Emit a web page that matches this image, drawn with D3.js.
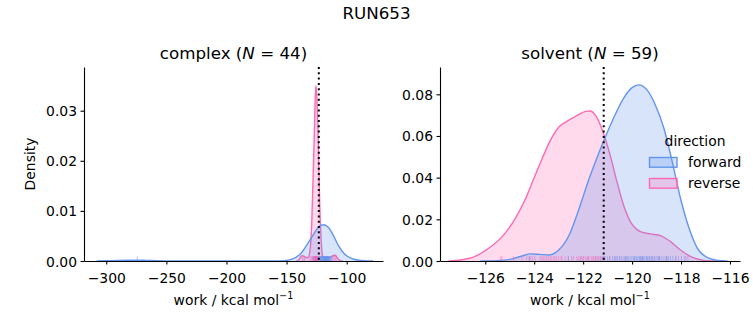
<!DOCTYPE html>
<html>
<head>
<meta charset="utf-8">
<script src="https://cdn.jsdelivr.net/npm/d3@7"></script>
<style>
  html, body { margin: 0; padding: 0; background: #fff; }
  svg { display: block; font-family: "DejaVu Sans", sans-serif; }
</style>
</head>
<body>
<svg id="chart" width="753" height="325"></svg>
<script>
// ---------------- data ----------------
const suptitle = "RUN653";
const panels = ["complex", "solvent"];
const panelN = [44, 59];
const directions = ["forward", "reverse"];
const colors = ["#6495ED", "#FF69B4"];

// KDE curves: [work, density]
const complexForwardCurve = [
  [-308, 0], [-300, 0.00004], [-290, 0.00011], [-282, 0.00015], [-275, 0.00016], [-267, 0.00013],
  [-258, 0.00007], [-248, 0.00002], [-238, 0], [-170, 0], [-160, 0.00001], [-152, 0.00007],
  [-146, 0.00032], [-139, 0.00128], [-133.4, 0.0031], [-127.9, 0.0052], [-123.8, 0.0067],
  [-119.6, 0.00725], [-115.5, 0.0068], [-111.3, 0.0052], [-107.2, 0.0032], [-101.6, 0.00133],
  [-94.7, 0.0004], [-88, 0.00009], [-82, 0.00001], [-78, 0]
];
const complexReverseCurve = [
  [-142, 0], [-140, 0.0002], [-138.5, 0.0007], [-137, 0.00105], [-135.5, 0.00095], [-134, 0.0007],
  [-132.5, 0.0007], [-131.5, 0.0009], [-130.7, 0.0018], [-129.8, 0.004], [-129.0, 0.008],
  [-128.2, 0.0145], [-127.3, 0.022], [-126.5, 0.0295], [-125.7, 0.035], [-124.9, 0.033],
  [-124.0, 0.027], [-123.2, 0.019], [-122.4, 0.011], [-121.5, 0.0055], [-120.7, 0.0022],
  [-119.9, 0.0009], [-118.5, 0.0006], [-116, 0.0006], [-113.5, 0.0008], [-111, 0.0011],
  [-109.5, 0.00115], [-108, 0.0007], [-106.5, 0.00025], [-105, 0.00005], [-103.5, 0]
];
const solventForwardCurve = [
  [-126.2, 0], [-125.5, 0.0002], [-124.9, 0.001], [-124.5, 0.0024], [-124.15, 0.0034],
  [-123.8, 0.0032], [-123.4, 0.0029], [-123.0, 0.0053], [-122.57, 0.0125], [-122.16, 0.0253],
  [-121.75, 0.0397], [-121.47, 0.0485], [-121.17, 0.0573], [-120.76, 0.0685], [-120.35, 0.0781],
  [-120.0, 0.0832], [-119.73, 0.0845], [-119.39, 0.0821], [-119.05, 0.0749], [-118.70, 0.0637],
  [-118.36, 0.0477], [-118.02, 0.030], [-117.67, 0.0157], [-117.33, 0.0061], [-116.92, 0.0016],
  [-116.5, 0.0003], [-116.1, 0]
];
const solventReverseCurve = [
  [-127.5, 0], [-127.0, 0.0005], [-126.55, 0.0016], [-125.86, 0.0061], [-125.31, 0.0117],
  [-124.77, 0.0205], [-124.35, 0.030], [-124.01, 0.0397], [-123.67, 0.0493], [-123.33, 0.0581],
  [-122.98, 0.0644], [-122.57, 0.0677], [-122.16, 0.0704], [-121.9, 0.0718], [-121.72, 0.072],
  [-121.5, 0.070], [-121.17, 0.0613], [-120.90, 0.0509], [-120.62, 0.0381], [-120.35, 0.0269],
  [-120.07, 0.0189], [-119.66, 0.0141], [-119.25, 0.013], [-118.84, 0.0122], [-118.43, 0.0093],
  [-118.02, 0.0053], [-117.60, 0.0021], [-117.06, 0.0003], [-116.6, 0]
];

// individual work values (rug)
const complexForwardWork = [-274.2, -127.9, -125.3, -123.6, -122.8, -122.1, -121.5, -121.0, -120.6,
  -120.2, -119.8, -119.5, -119.1, -118.8, -118.5, -118.2, -117.9, -117.6, -117.3, -117.0, -116.7,
  -116.4, -116.1, -115.8, -115.5, -115.2, -114.9, -114.5, -114.1, -113.6, -113.0, -112.4, -119.3,
  -118.0, -117.4, -116.9, -116.2, -115.6, -114.7, -120.9, -121.8, -118.6, -117.7, -116.6];
const complexReverseWork = [-136.8, -135.6, -134.9, -130.6, -129.4, -128.7, -128.1, -127.6, -127.2,
  -126.9, -126.6, -126.4, -126.2, -126.0, -125.9, -125.7, -125.6, -125.4, -125.3, -125.1, -124.9,
  -124.8, -124.6, -124.4, -124.2, -124.0, -123.8, -125.8, -126.3, -125.5, -125.2, -124.7, -127.0,
  -126.7, -125.0, -124.5, -123.5, -122.6, -121.4, -111.5, -110.4, -109.6, -108.8, -126.1];
const solventForwardWork = [-124.2, -122.6, -122.1, -121.8, -121.5, -121.3, -121.12, -121.0, -120.92,
  -120.8, -120.71, -120.6, -120.52, -120.44, -120.37, -120.3, -120.22, -120.15, -120.08, -120.01,
  -119.95, -119.88, -119.82, -119.77, -119.71, -119.66, -119.6, -119.54, -119.48, -119.42, -119.36,
  -119.3, -119.23, -119.16, -119.09, -119.02, -118.95, -118.87, -118.79, -118.7, -118.61, -118.52,
  -118.43, -118.33, -118.22, -118.1, -117.98, -117.85, -117.72, -120.65, -119.9, -119.57, -119.2,
  -118.9, -120.27, -119.68, -119.4, -118.57, -121.2];
const solventReverseWork = [-125.37, -125.32, -124.85, -124.5, -124.31, -124.2, -124.14, -124.06,
  -123.97, -123.76, -123.69, -123.63, -123.56, -123.49, -123.42, -123.35, -123.28, -123.15, -123.08,
  -123.0, -122.88, -122.74, -122.61, -122.47, -122.4, -122.26, -122.2, -122.13, -122.06, -121.99,
  -121.92, -121.85, -121.79, -121.72, -121.65, -121.58, -121.51, -121.44, -121.38, -121.31, -121.24,
  -121.17, -121.1, -120.9, -120.7, -120.5, -120.2, -119.6, -119.3, -119.1, -118.9, -118.6, -118.2,
  -117.8, -122.9, -121.6, -122.0, -121.4, -123.2];

// free energy estimates (dotted lines)
const freeEnergy = [-123.2, -121.16];

// ticks
const complexXTicks = [-300, -250, -200, -150, -100];
const complexYTicks = [0.00, 0.01, 0.02, 0.03];
const solventXTicks = [-126, -124, -122, -120, -118, -116];
const solventYTicks = [0.00, 0.02, 0.04, 0.06, 0.08];
const complexXDomain = [-318.5, -69.8];
const complexYDomain = [0, 0.03872];
const solventXDomain = [-127.85, -115.59];
const solventYDomain = [0, 0.0931];

// ---------------- drawing ----------------
(function () {
const svg = d3.select("#chart");
svg.append("rect").attr("width", 753).attr("height", 325).attr("fill", "#fff");

const minus = s => s.replace(/-/g, "\u2212");

svg.append("text").attr("x", 376.5).attr("y", 19).attr("text-anchor", "middle")
  .attr("font-size", 16.7).attr("fill", "#000").text(suptitle);

const panelDefs = [
  { name: panels[0], n: panelN[0], left: 84, right: 383, xd: complexXDomain, yd: complexYDomain,
    xt: complexXTicks, yt: complexYTicks, curves: [complexForwardCurve, complexReverseCurve],
    rugs: [complexForwardWork, complexReverseWork], dg: freeEnergy[0], ylabel: true },
  { name: panels[1], n: panelN[1], left: 440, right: 740, xd: solventXDomain, yd: solventYDomain,
    xt: solventXTicks, yt: solventYTicks, curves: [solventForwardCurve, solventReverseCurve],
    rugs: [solventForwardWork, solventReverseWork], dg: freeEnergy[1], ylabel: false }
];
const axTop = 67, axBottom = 261;

panelDefs.forEach(p => {
  const x = d3.scaleLinear().domain(p.xd).range([p.left, p.right]);
  const y = d3.scaleLinear().domain(p.yd).range([axBottom, axTop]);
  const g = svg.append("g");
  const clipId = "clip-" + p.name;
  svg.append("clipPath").attr("id", clipId).append("rect")
    .attr("x", p.left).attr("y", axTop).attr("width", p.right - p.left).attr("height", axBottom - axTop);
  const plot = g.append("g").attr("clip-path", `url(#${clipId})`);

  const area = d3.area().x(d => x(d[0])).y0(y(0)).y1(d => y(d[1])).curve(d3.curveMonotoneX);
  const line = d3.line().x(d => x(d[0])).y(d => y(d[1])).curve(d3.curveMonotoneX);

  [1, 0].forEach(i => {
    plot.append("path").datum(p.curves[i]).attr("d", area)
      .attr("fill", colors[i]).attr("fill-opacity", 0.25).attr("stroke", "none");
    plot.append("path").datum(p.curves[i]).attr("d", line)
      .attr("fill", "none").attr("stroke", colors[i]).attr("stroke-width", 1.4);
  });

  const rugH = 0.025 * (axBottom - axTop);
  [1, 0].forEach(i => {
    plot.append("g").selectAll("line").data(p.rugs[i]).join("line")
      .attr("x1", d => x(d)).attr("x2", d => x(d))
      .attr("y1", axBottom).attr("y2", axBottom - rugH)
      .attr("stroke", colors[i]).attr("stroke-opacity", 0.5).attr("stroke-width", 1);
  });

  plot.append("line").attr("x1", x(p.dg)).attr("x2", x(p.dg)).attr("y1", axTop).attr("y2", axBottom)
    .attr("stroke", "#000").attr("stroke-width", 2).attr("stroke-dasharray", "2,3.3");

  const xAxis = d3.axisBottom(x).tickValues(p.xt).tickSize(3.5).tickPadding(3.5).tickSizeOuter(0)
    .tickFormat(d => minus(d3.format("d")(d)));
  const yAxis = d3.axisLeft(y).tickValues(p.yt).tickSize(3.5).tickPadding(3.5).tickSizeOuter(0)
    .tickFormat(d => d3.format(".2f")(d));
  const gx = g.append("g").attr("transform", `translate(0,${axBottom})`).call(xAxis);
  const gy = g.append("g").attr("transform", `translate(${p.left},0)`).call(yAxis);
  [gx, gy].forEach(a => {
    a.attr("font-family", "DejaVu Sans, sans-serif").attr("font-size", 13.9);
    a.select(".domain").attr("stroke", "#000").attr("stroke-width", 1.1);
    a.selectAll(".tick line").attr("stroke", "#000").attr("stroke-width", 1.1);
    a.selectAll(".tick text").attr("fill", "#000");
  });
  gx.selectAll(".tick text").attr("dy", null).attr("y", 22);
  gy.selectAll(".tick text").attr("dy", null).attr("y", 5);

  const cx = (p.left + p.right) / 2;
  const t = g.append("text").attr("x", cx).attr("y", 59).attr("text-anchor", "middle")
    .attr("font-size", 16.7).attr("fill", "#000");
  t.append("tspan").text(p.name + " (");
  t.append("tspan").attr("font-style", "italic").text("N");
  t.append("tspan").text(" = " + p.n + ")");

  const xl = g.append("text").attr("x", cx).attr("y", 305).attr("text-anchor", "middle")
    .attr("font-size", 13.9).attr("fill", "#000");
  xl.append("tspan").text("work / kcal mol");
  xl.append("tspan").attr("font-size", 9.7).attr("dy", -6).text("\u22121");

  if (p.ylabel) {
    g.append("text").attr("transform", `translate(35,${(axTop + axBottom) / 2}) rotate(-90)`)
      .attr("text-anchor", "middle").attr("font-size", 13.9).attr("fill", "#000").text("Density");
  }
});

const lg = svg.append("g");
lg.append("text").attr("x", 695).attr("y", 146).attr("text-anchor", "middle")
  .attr("font-size", 13.9).attr("fill", "#000").text("direction");
const legendY = [157.5, 178.5];
const legendTextY = [166.8, 187.8];
directions.forEach((d, i) => {
  lg.append("rect").attr("x", 649.5).attr("y", legendY[i]).attr("width", 27.5).attr("height", 9.7)
    .attr("fill", colors[i]).attr("fill-opacity", 0.25).attr("stroke", colors[i]).attr("stroke-width", 1.4);
  lg.append("text").attr("x", 688).attr("y", legendTextY[i]).attr("font-size", 13.9)
    .attr("fill", "#000").text(d);
});
})();
</script>
</body>
</html>
